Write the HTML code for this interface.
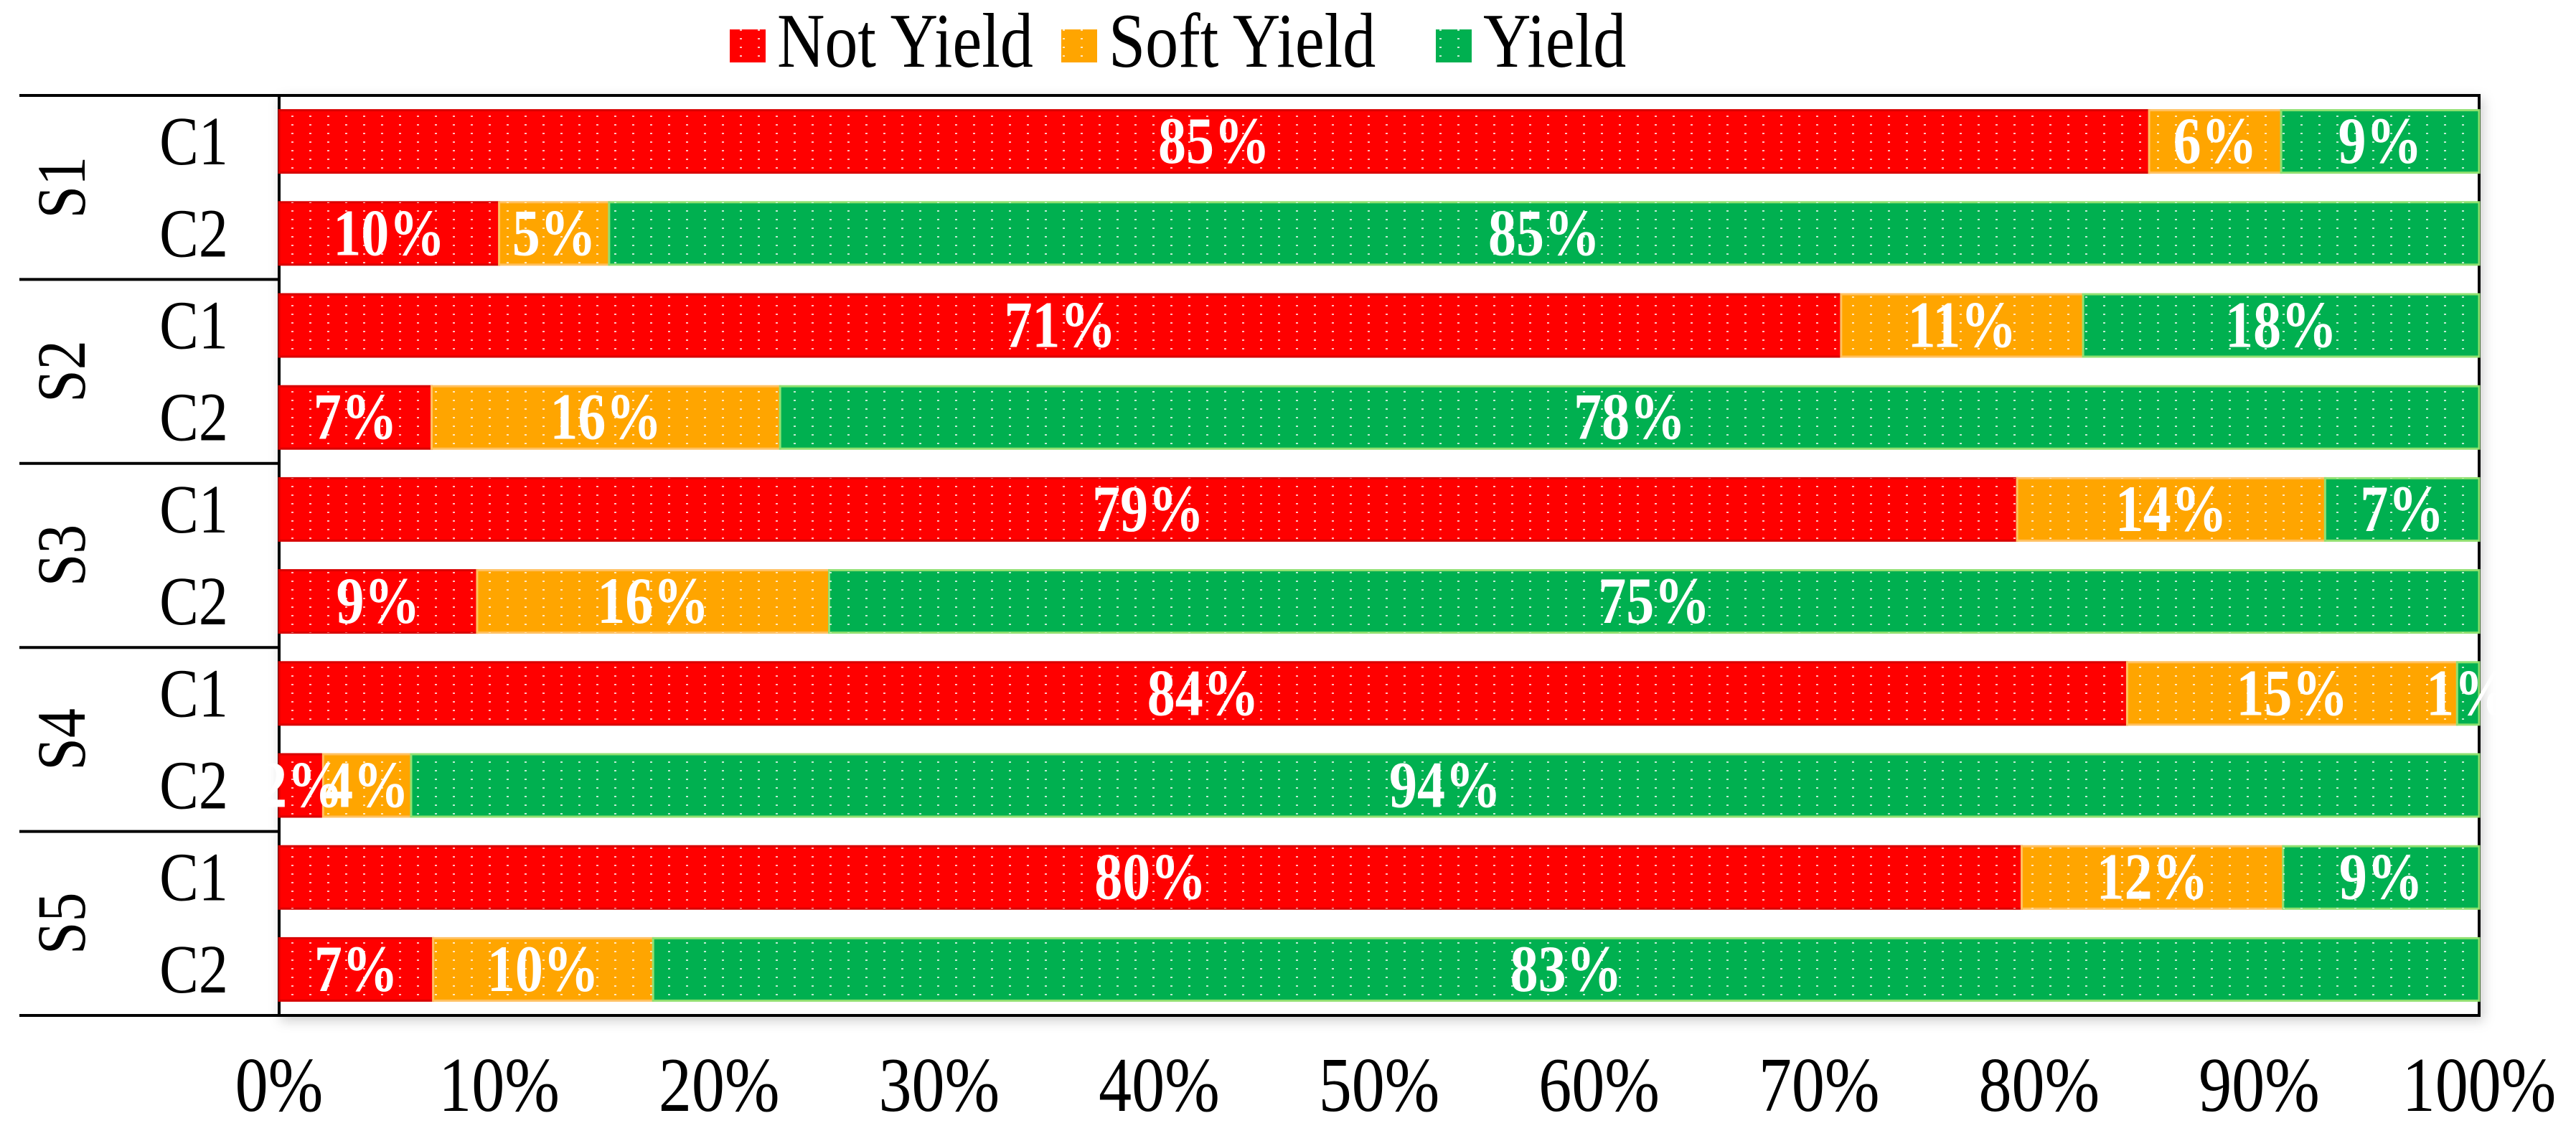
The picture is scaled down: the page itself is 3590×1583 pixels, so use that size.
<!DOCTYPE html>
<html><head><meta charset="utf-8"><style>
html,body{margin:0;padding:0;background:#fff;}
svg{display:block;}
</style></head><body>
<svg id="chart" width="3590" height="1583" viewBox="0 0 3590 1583" xmlns="http://www.w3.org/2000/svg" font-family="'Liberation Serif', serif">
<defs>
<pattern id="dots" width="25" height="12" patternUnits="userSpaceOnUse">
<rect x="6" y="5" width="3" height="2" fill="#fff" opacity="0.75"/>
</pattern>
<filter id="sh" x="-5%" y="-5%" width="110%" height="110%"><feDropShadow dx="4" dy="6" stdDeviation="8" flood-color="#000" flood-opacity="0.18"/></filter>
</defs>
<g id="legend"></g>
<rect x="389" y="133" width="3066" height="1282" fill="#fff" stroke="#000" stroke-width="4" filter="url(#sh)"/>
<g id="bars"></g>
<g id="labels"></g>
<g id="axis"></g>
</svg>
<script>
const groups = ["S1","S2","S3","S4","S5"];
const conds = ["C1","C2"];
const notYield  = [85,10,71,7,79,9,84,2,80,7];
const softYield = [6,5,11,16,14,16,15,4,12,10];
const yieldVals = [9,85,18,78,7,75,1,94,9,83];
const seriesNames = ["Not Yield","Soft Yield","Yield"];
const ticks = [0,10,20,30,40,50,60,70,80,90,100];

const colors = ["#ff0000","#ffa500","#00b050"];
const strokes = ["#d80000","#ffc060","#90e070"];
const NS="http://www.w3.org/2000/svg";
const L=389,R=3455,T=133,B=1415;
const nRows=notYield.length, pitch=(B-T)/nRows, barH=87;
const SY=1.18;
function x(v){return L+(R-L)*v/100;}
function yc(i){return T+pitch*(i+0.5);}
function mk(tag,attrs,parent){const e=document.createElementNS(NS,tag);for(const k in attrs)e.setAttribute(k,attrs[k]);parent.appendChild(e);return e;}
function txt(px,py,size,attrs,parent){
  const a=Object.assign({x:0,y:0,'font-size':size,transform:`translate(${px},${py}) scale(1,${SY})`},attrs);
  return mk('text',a,parent);
}

const gb=document.getElementById('bars'), gl=document.getElementById('labels');
const series=[notYield,softYield,yieldVals];
for(let i=0;i<nRows;i++){
  const tot=notYield[i]+softYield[i]+yieldVals[i];
  let acc=0;
  for(let s=0;s<3;s++){
    const v=series[s][i]*100/tot;
    const x0=x(acc), x1=x(acc+v);
    const r=mk('rect',{x:x0,y:yc(i)-barH/2,width:x1-x0,height:barH,fill:colors[s],stroke:strokes[s],'stroke-width':3},gb);
    
    
    const p=mk('rect',{x:x0,y:yc(i)-barH/2,width:x1-x0,height:barH,fill:'url(#dots)'},gb);
    
    
    const t=txt((x0+x1)/2,yc(i)+30,78,{'text-anchor':'middle','font-weight':'bold',fill:'#fff'},gl);
    t.textContent=series[s][i]+'%';
    
    
    acc+=v;
  }
}
const ga=document.getElementById('axis');
for(let i=0;i<nRows;i++){
  const t=txt(270,yc(i)+32,82,{'text-anchor':'middle',fill:'#000'},ga);
  t.textContent=conds[i%2];
  
  
}
for(let g=0;g<groups.length;g++){
  const cy=T+pitch*(2*g+1);
  const t=mk('text',{x:0,y:0,'text-anchor':'middle','font-size':82,fill:'#000',transform:`translate(118,${cy}) rotate(-90) scale(1,${SY})`},ga);
  t.textContent=groups[g];
  
  
}
for(let g=0;g<=groups.length;g++){
  const yy=T+pitch*2*g;
  const ln=mk('line',{x1:27,x2:L,y1:yy,y2:yy,stroke:'#000','stroke-width':4},ga);
  
  
}
for(const tv of ticks){
  const t=txt(x(tv),1548,92,{'text-anchor':'middle',fill:'#000'},ga);
  t.textContent=tv+'%';
  
  
}
const lg=document.getElementById('legend');
const lx=[1017,1479,2001];
for(let s=0;s<3;s++){
  const r=mk('rect',{x:lx[s],y:41,width:50,height:46,fill:colors[s]},lg);
  
  
  const p=mk('rect',{x:lx[s],y:41,width:50,height:46,fill:'url(#dots)'},lg);
  
  
  const t=txt(lx[s]+66,93,92,{fill:'#000'},lg);
  t.textContent=seriesNames[s];
  
  
}
</script>
</body></html>
